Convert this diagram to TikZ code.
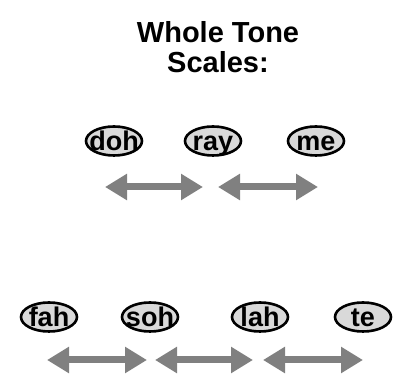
\documentclass[tikz,border=0pt]{standalone}
\usepackage{fontspec}
\setmainfont{Liberation Sans}
\usetikzlibrary{shapes.geometric,arrows.meta,positioning}

\begin{document}
\begin{tikzpicture}[
    x=1pt, y=-1pt,
    % Title
    heading/.style={align=center, font=\fontsize{29}{30}\selectfont\bfseries},
    % Notes
    note/.style={ellipse, draw=black, line width=2.6pt, fill=black!15, minimum width=56pt, minimum height=29pt, inner sep=0pt},
    notetext/.style={inner sep=0pt, text height=19pt, text depth=0pt, font=\fontsize{27}{27}\selectfont\bfseries},
    % Intervals
    interval/.style={{Triangle[width=25pt,length=22pt]}-{Triangle[width=25pt,length=22pt]}, line width=7pt, draw=black!50}
]
\useasboundingbox (0,0) rectangle (405,382);

% Title
\node[heading] (title) at (218,47) {Whole Tone\\Scales:};

% Notes (first scale)
\node[note, label={[notetext]center:doh}] (doh) at (114,141) {};
\node[note, label={[notetext]center:ray}] (ray) at (213,141) {};
\node[note, label={[notetext]center:me}] (me) at (316,141) {};

% Notes (second scale)
\node[note, label={[notetext]center:fah}] (fah) at (49,317) {};
\node[note, label={[notetext]center:soh}] (soh) at (150,317) {};
\node[note, label={[notetext]center:lah}] (lah) at (260,317) {};
\node[note, label={[notetext]center:te}] (te) at (363,317) {};

% Interval ends
\coordinate (i1a) at (105,187);
\coordinate (i1b) at (203,187);
\coordinate (i2a) at (218,187);
\coordinate (i2b) at (318,187);
\coordinate (j1a) at (47,360);
\coordinate (j1b) at (147,360);
\coordinate (j2a) at (155,360);
\coordinate (j2b) at (253,360);
\coordinate (j3a) at (263,360);
\coordinate (j3b) at (363,360);

% Whole tone steps
\draw[interval] (i1a) -- (i1b);
\draw[interval] (i2a) -- (i2b);
\draw[interval] (j1a) -- (j1b);
\draw[interval] (j2a) -- (j2b);
\draw[interval] (j3a) -- (j3b);

\end{tikzpicture}
\end{document}
